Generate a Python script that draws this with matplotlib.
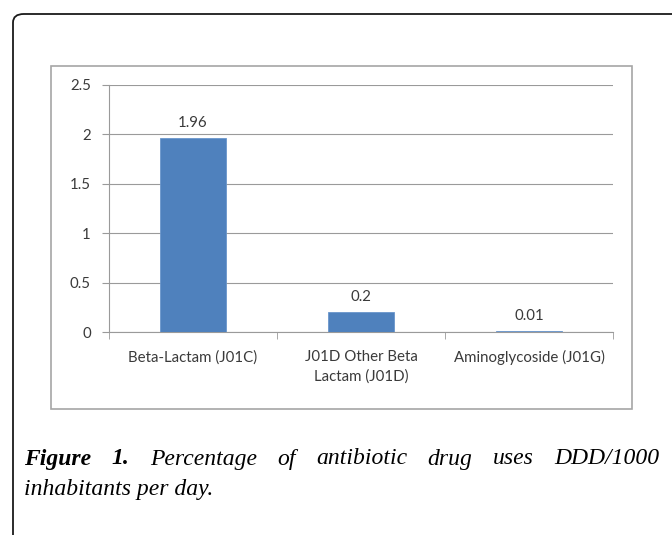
import matplotlib
matplotlib.use("Agg")
import matplotlib.pyplot as plt
from matplotlib.patches import FancyBboxPatch, Rectangle

categories = ["Beta-Lactam (J01C)", "J01D Other Beta\nLactam (J01D)", "Aminoglycoside (J01G)"]
values = [1.96, 0.2, 0.01]
value_labels = ["1.96", "0.2", "0.01"]
yticks = [0, 0.5, 1, 1.5, 2, 2.5]
ytick_labels = ["0", "0.5", "1", "1.5", "2", "2.5"]
caption_line1_bold = ["Figure", "1."]
caption_line1 = ["Percentage", "of", "antibiotic", "drug", "uses", "DDD/1000"]
caption_line2 = "inhabitants per day."

W, H = 672, 535
fig = plt.figure(figsize=(W / 100, H / 100), dpi=100)

def fx(px):
    return px / W

def fy(py):
    return 1 - py / H

# outer rounded frame
outer = FancyBboxPatch((fx(13), fy(600)), fx(700), fy(14) - fy(600),
                       boxstyle="round,pad=0,rounding_size=0.016",
                       transform=fig.transFigure, fill=False,
                       edgecolor="#1a1a1a", linewidth=1.3)
fig.patches.append(outer)

# inner chart frame
inner = Rectangle((fx(51), fy(409)), fx(632) - fx(51), fy(66) - fy(409),
                  transform=fig.transFigure, fill=False,
                  edgecolor="#a6a6a6", linewidth=1.2)
fig.patches.append(inner)

tfs = 10.8
tcol = "#3a3a3a"
ax = fig.add_axes([fx(109), fy(332), fx(613) - fx(109), fy(85) - fy(332)])
x = list(range(len(categories)))
ax.bar(x, values, width=0.39, color="#4F81BD", edgecolor="#6a96cc", linewidth=0.6, zorder=3)
for xi, v, lab in zip(x, values, value_labels):
    ax.annotate(lab, (xi, v), xytext=(0, 6), textcoords="offset points",
                ha="center", va="bottom", fontsize=tfs, family="Lato", color=tcol)

ax.set_xlim(-0.5, 2.5)
ax.set_ylim(0, 2.5)
ax.set_yticks(yticks)
ax.set_yticklabels(ytick_labels, fontsize=tfs, family="Lato", color=tcol)
ax.yaxis.grid(True, color="#9a9a9a", linewidth=0.8, zorder=0)
ax.set_xticks(x)
ax.set_xticklabels(categories, fontsize=tfs, family="Lato", color=tcol, linespacing=1.45)
ax.set_xticks([-0.5, 0.5, 1.5, 2.5], minor=True)
ax.tick_params(axis="x", which="major", length=0, pad=13)
ax.tick_params(axis="x", which="minor", length=5, color="#9a9a9a", direction="out")
ax.tick_params(axis="y", length=5, color="#9a9a9a", pad=8)
for s in ["top", "right"]:
    ax.spines[s].set_visible(False)
ax.spines["left"].set_color("#9a9a9a")
ax.spines["bottom"].set_color("#9a9a9a")
ax.spines["left"].set_linewidth(0.8)
ax.spines["bottom"].set_linewidth(0.8)

# caption, justified first line
fig.canvas.draw()
renderer = fig.canvas.get_renderer()
fs = 17
y1 = fy(459)
words = []
for w in caption_line1_bold:
    t = fig.text(0, y1, w, fontsize=fs, family="Liberation Serif", style="italic",
                 weight="bold", va="center", ha="left", color="black")
    words.append(t)
for w in caption_line1:
    t = fig.text(0, y1, w, fontsize=fs, family="Liberation Serif", style="italic",
                 va="center", ha="left", color="black")
    words.append(t)
widths = [t.get_window_extent(renderer).width for t in words]
left_px, right_px = 24, 659
gap = (right_px - left_px - sum(widths)) / (len(words) - 1)
cur = left_px
for t, wd in zip(words, widths):
    t.set_x(fx(cur))
    cur += wd + gap

fig.text(fx(24), fy(490), caption_line2, fontsize=fs, family="Liberation Serif",
         style="italic", va="center", ha="left", color="black")

fig.savefig("out.png", dpi=100)
